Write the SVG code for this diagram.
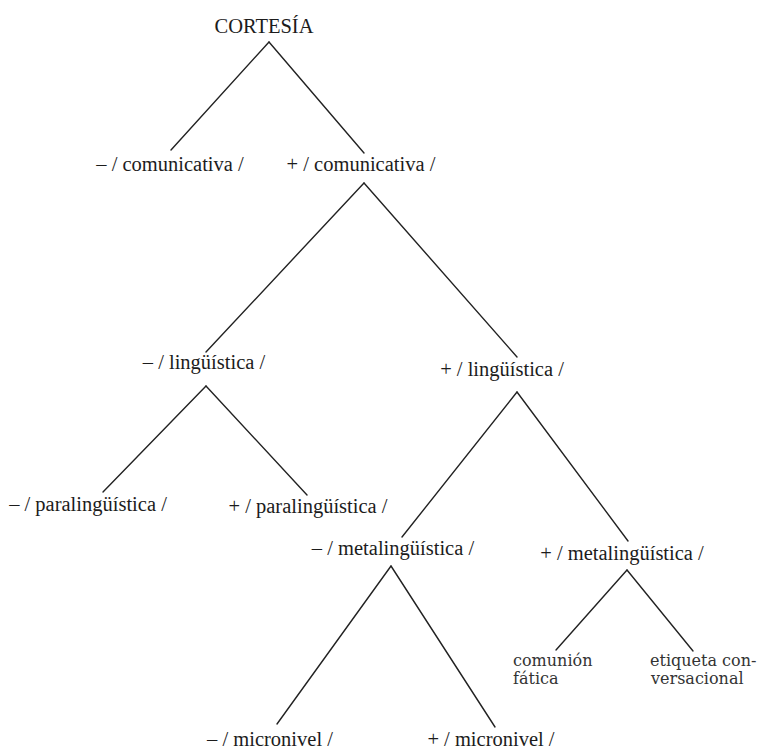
<svg xmlns="http://www.w3.org/2000/svg" width="761" height="751" viewBox="0 0 761 751">
<style>
.lbl{font-family:"Liberation Serif","Times New Roman",serif;font-size:20.5px;fill:#1c1c1c;text-anchor:middle}
.sm{font-family:"DejaVu Serif","Liberation Serif",serif;font-size:16px;fill:#333}
.edge{stroke:#222;stroke-width:1.4;fill:none;stroke-linecap:round}
</style>
<rect width="761" height="751" fill="#fff"/>
<g id="connectors">
<line class="edge" x1="269" y1="42" x2="171" y2="150"/>
<line class="edge" x1="269" y1="42" x2="364" y2="153"/>
<line class="edge" x1="364" y1="183" x2="206" y2="352"/>
<line class="edge" x1="364" y1="183" x2="517" y2="357"/>
<line class="edge" x1="206" y1="386" x2="103" y2="492"/>
<line class="edge" x1="206" y1="386" x2="307" y2="495"/>
<line class="edge" x1="517" y1="392" x2="402" y2="537"/>
<line class="edge" x1="517" y1="392" x2="628" y2="541"/>
<line class="edge" x1="391" y1="566" x2="277" y2="724"/>
<line class="edge" x1="391" y1="566" x2="495" y2="727"/>
<line class="edge" x1="627" y1="570" x2="556" y2="650"/>
<line class="edge" x1="627" y1="570" x2="693" y2="651"/>
</g>
<g id="cortesia"><text class="lbl" x="264" y="33">CORTESÍA</text></g>
<g id="no-comunicativa"><text class="lbl" x="170" y="171">– / comunicativa /</text></g>
<g id="si-comunicativa"><text class="lbl" x="361" y="171">+ / comunicativa /</text></g>
<g id="no-linguistica"><text class="lbl" x="204" y="369">– / lingüística /</text></g>
<g id="si-linguistica"><text class="lbl" x="502" y="376">+ / lingüística /</text></g>
<g id="no-paralinguistica"><text class="lbl" x="88" y="511">– / paralingüística /</text></g>
<g id="si-paralinguistica"><text class="lbl" x="308" y="513">+ / paralingüística /</text></g>
<g id="no-metalinguistica"><text class="lbl" x="393" y="555">– / metalingüística /</text></g>
<g id="si-metalinguistica"><text class="lbl" x="622" y="560">+ / metalingüística /</text></g>
<g id="comunion-fatica"><text class="sm" x="513" y="666">comunión</text><text class="sm" x="513" y="684">fática</text></g>
<g id="etiqueta-conversacional"><text class="sm" x="650" y="666">etiqueta con-</text><text class="sm" x="651" y="684">versacional</text></g>
<g id="no-micronivel"><text class="lbl" x="270" y="746">– / micronivel /</text></g>
<g id="si-micronivel"><text class="lbl" x="491" y="746">+ / micronivel /</text></g>
</svg>
